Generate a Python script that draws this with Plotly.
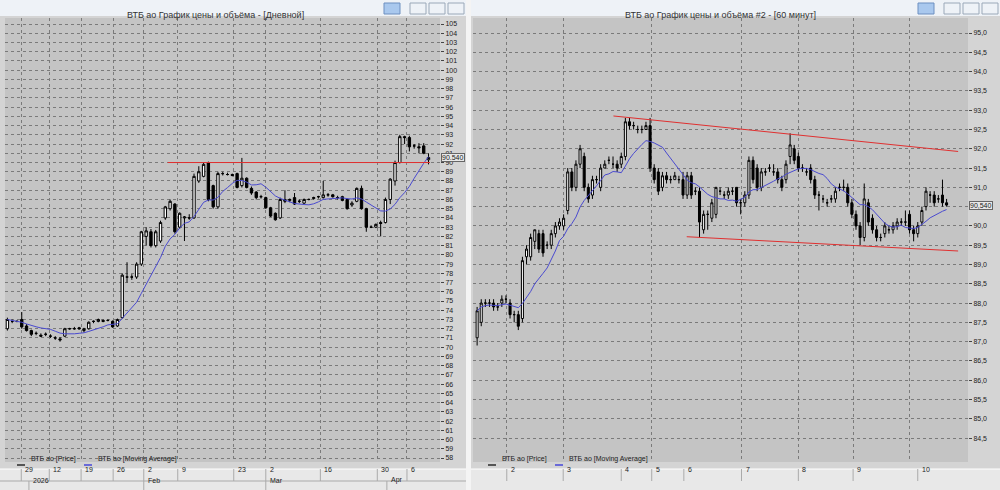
import plotly.graph_objects as go
import pandas as pd

# ---------------- data ----------------
left_ohlc = [
(72.0,73.2,71.8,73.0),(72.8,73.0,72.6,72.8),(72.8,72.9,72.7,72.8),(73.0,73.8,72.0,72.2),
(72.3,72.5,71.7,71.8),(71.8,71.9,71.2,71.4),(71.5,71.7,71.3,71.5),(71.3,71.5,71.1,71.2),
(71.4,71.6,71.2,71.4),(71.2,71.4,71.0,71.2),(71.0,71.2,70.8,71.0),(70.9,71.1,70.6,70.8),
(71.2,72.1,71.1,72.0),(72.0,72.1,71.9,72.0),(72.0,72.2,71.9,72.0),(72.1,72.2,71.9,72.0),
(71.8,72.1,71.6,72.0),(72.0,72.8,71.9,72.7),(72.8,72.9,72.6,72.8),(72.8,73.1,72.7,73.0),
(72.9,73.0,72.7,72.8),(72.9,73.0,72.8,72.9),(72.8,72.9,72.1,72.2),(72.3,73.1,72.2,73.0),
(73.2,78.0,73.1,77.8),(77.6,79.2,77.0,77.6),(77.6,77.9,77.3,77.6),(77.6,79.2,77.4,79.0),
(79.0,82.6,78.8,82.5),(82.0,83.0,81.0,82.6),(82.5,82.8,80.8,81.0),(81.0,82.7,80.8,82.5),
(81.5,83.7,81.3,83.5),(84.0,85.3,83.8,85.2),(85.0,86.0,84.8,85.8),(85.5,85.6,82.3,82.5),
(83.0,84.6,82.8,84.5),(84.0,84.2,81.5,84.1),(84.0,84.4,83.8,84.0),(84.0,88.8,83.9,88.5),
(88.0,89.6,87.8,89.0),(88.5,90.0,88.4,89.8),(90.0,90.1,85.8,86.0),(87.5,87.6,85.0,85.2),
(85.2,89.0,85.0,88.8),(88.8,89.0,88.6,88.8),(88.7,88.9,88.6,88.7),(88.7,88.8,88.5,88.6),
(88.8,88.9,87.2,87.3),(87.5,90.5,87.3,88.3),(88.3,88.4,87.2,87.3),(87.2,87.4,86.5,86.7),
(86.8,86.9,86.0,86.2),(86.3,86.5,86.1,86.3),(86.2,86.3,85.0,85.1),(85.1,85.2,84.1,84.2),
(84.5,84.6,83.7,83.8),(84.0,86.2,83.9,86.0),(86.0,87.0,85.6,85.8),(85.9,86.1,85.7,86.0),
(86.2,86.7,85.4,85.5),(85.8,86.0,85.6,85.8),(85.6,86.1,85.5,86.0),(86.0,86.1,85.9,86.0),
(86.1,86.3,86.0,86.2),(86.3,86.4,86.1,86.3),(86.2,88.0,86.1,86.5),(86.5,86.7,86.3,86.5),
(86.5,86.6,86.2,86.3),(86.2,86.4,86.0,86.2),(86.3,86.4,85.8,85.9),(86.0,86.1,84.9,85.0),
(85.4,85.8,85.2,85.6),(85.8,87.3,85.7,87.2),(87.2,87.5,84.9,85.0),(85.0,85.1,82.5,83.0),
(83.0,83.2,82.9,83.0),(83.0,83.4,82.9,83.3),(83.5,83.7,82.0,83.4),(83.5,86.2,83.4,86.0),
(86.0,88.3,85.5,88.2),(88.0,90.2,87.5,90.0),(90.0,93.0,89.9,92.8),(92.8,92.9,92.0,92.7),
(92.7,92.9,91.2,91.7),(91.8,92.0,91.5,91.8),(91.7,92.1,91.0,91.6),(91.8,92.1,90.9,91.0),
(90.3,91.0,89.8,90.54),
]
right_ohlc = [
(87.1,87.9,86.9,87.8),(87.5,88.1,87.4,88.0),(88.0,88.1,87.9,88.0),(88.0,88.1,87.9,88.0),
(88.0,88.1,87.8,87.9),(87.9,88.0,87.8,87.9),(88.0,88.2,87.9,88.1),(88.1,88.2,88.0,88.1),
(88.0,88.1,87.6,87.7),(87.7,87.8,87.5,87.7),(87.7,87.8,87.3,87.4),(87.6,89.2,87.5,89.1),
(89.2,89.5,89.0,89.4),(89.2,89.8,89.1,89.7),(89.6,89.9,89.4,89.9),(89.8,89.9,89.3,89.4),
(89.8,89.9,89.2,89.3),(89.5,89.6,89.4,89.5),(89.5,89.9,89.4,89.8),(89.8,90.1,89.7,90.0),
(90.0,90.2,89.9,90.1),(90.0,90.3,89.9,90.2),(90.4,91.5,90.3,91.4),(91.4,91.5,90.9,91.0),
(91.0,91.7,90.9,91.6),(91.6,92.1,91.5,92.0),(91.8,91.9,90.9,91.0),(91.0,91.1,90.6,90.7),
(90.8,91.3,90.7,91.2),(91.2,91.3,91.1,91.2),(91.0,91.6,90.9,91.5),(91.5,91.7,91.5,91.6),
(91.7,91.8,91.6,91.7),(91.6,91.8,91.5,91.6),(91.6,91.7,91.4,91.5),(91.6,91.9,91.5,91.8),
(91.8,92.8,91.7,92.7),(92.7,92.8,92.5,92.6),(92.6,92.7,92.5,92.6),(92.5,92.6,92.4,92.5),
(92.5,92.6,92.4,92.5),(92.5,92.7,92.5,92.6),(92.6,92.8,91.4,91.5),(91.5,91.6,91.1,91.2),
(91.4,91.5,90.8,90.9),(91.0,91.4,90.9,91.3),(91.3,91.4,91.1,91.2),(91.2,91.3,91.1,91.2),
(91.2,91.4,91.2,91.3),(91.2,91.3,91.1,91.2),(91.2,91.4,90.7,90.8),(90.8,91.4,90.7,91.3),
(91.3,91.4,90.7,90.8),(90.9,91.0,90.8,90.9),(90.9,91.0,89.7,90.1),(89.9,90.4,89.8,90.3),
(90.3,90.4,89.9,90.3),(90.2,90.7,90.1,90.6),(90.3,91.0,90.2,91.0),(90.9,91.0,90.8,90.9),
(90.8,90.9,90.7,90.8),(90.8,91.0,90.7,90.9),(90.9,91.0,90.8,90.9),(91.0,91.0,90.5,90.6),
(90.6,90.7,90.3,90.6),(90.6,90.9,90.5,90.8),(90.8,91.8,90.7,91.7),(91.7,91.8,91.1,91.2),
(91.5,91.6,90.9,91.0),(91.0,91.5,90.9,91.4),(91.4,91.5,91.3,91.4),(91.5,91.6,91.4,91.5),
(91.4,91.6,91.3,91.4),(91.4,91.5,91.1,91.2),(91.2,91.3,90.9,91.0),(91.2,91.7,91.1,91.6),
(91.8,92.4,91.6,92.1),(92.0,92.1,91.6,91.7),(91.8,91.9,91.4,91.5),(91.5,91.6,91.4,91.5),
(91.4,91.5,91.3,91.4),(91.5,91.6,91.1,91.2),(91.2,91.3,90.7,90.8),(90.8,90.9,90.4,90.8),
(90.7,90.8,90.6,90.7),(90.6,90.7,90.5,90.6),(90.7,90.8,90.6,90.7),(90.7,91.0,90.6,90.9),
(91.0,91.1,90.9,91.0),(91.0,91.2,90.9,91.0),(91.0,91.1,90.5,90.6),(90.6,90.7,90.2,90.3),
(90.3,90.4,89.9,90.0),(90.0,90.1,89.5,89.7),(89.7,91.1,89.6,90.7),(90.6,90.7,90.0,90.1),
(90.2,90.3,89.8,89.9),(89.9,90.0,89.6,89.7),(89.7,89.8,89.6,89.7),(89.8,90.1,89.7,90.0),
(89.9,90.0,89.8,89.9),(89.9,90.1,89.8,90.0),(90.0,90.2,89.9,90.1),(90.1,90.2,90.0,90.1),
(90.1,90.4,90.0,90.1),(90.3,90.4,89.8,89.9),(89.9,90.0,89.6,89.8),(89.8,90.1,89.7,90.0),
(90.1,90.5,90.0,90.4),(90.5,91.0,90.4,90.9),(90.8,90.9,90.6,90.8),(90.8,90.9,90.5,90.6),
(90.7,90.8,90.6,90.7),(90.8,91.2,90.5,90.6),(90.6,90.7,90.5,90.54),
]
ma_window_left = 10
ma_window_right = 10
last_price = 90.54

left_tick_idx = [2.9, 8.75, 15.4, 22.1, 28.5, 35.6, 47.3, 54, 65.4, 77.3, 83.5]
left_tick_lbl = ["29", "12", "19", "26", "2", "9", "23", "2", "16", "30", "6"]
left_month_idx = [4.5, 28.5, 54, 79.3]
left_month_lbl = ["2026", "Feb", "Mar", "Apr"]
right_grid_idx = [7.2, 20.9, 42.4, 64.2, 78.0, 91.3, 105.1]
right_tick_idx = [7.2, 20.9, 35, 42.4, 50.2, 64.2, 78.0, 91.3, 107]
right_tick_lbl = ["2", "3", "4", "5", "6", "7", "8", "9", "10"]

left_level = {"x": [33.5, 88.3], "y": [90.0, 90.0]}
right_upper = {"x": [33.1, 116.8], "y": [92.85, 91.93]}
right_lower = {"x": [50.9, 116.8], "y": [89.72, 89.35]}

# ---------------- figure ----------------
def frame(rows):
    df = pd.DataFrame(rows, columns=["o", "h", "l", "c"])
    df["i"] = range(len(df))
    return df

L = frame(left_ohlc); R = frame(right_ohlc)
L["ma"] = L["c"].rolling(ma_window_left, min_periods=1).mean()
R["ma"] = R["c"].rolling(ma_window_right, min_periods=1).mean()

W, H = 1000, 490
px = lambda x: x / W
py = lambda y: 1 - y / H

fig = go.Figure()
for df, xa, ya in [(L, "x", "y"), (R, "x2", "y2")]:
    fig.add_trace(go.Candlestick(x=df["i"], open=df["o"], high=df["h"], low=df["l"], close=df["c"],
        xaxis=xa, yaxis=ya, whiskerwidth=0,
        increasing=dict(line=dict(color="black", width=1), fillcolor="white"),
        decreasing=dict(line=dict(color="black", width=1), fillcolor="black"), showlegend=False))
    fig.add_trace(go.Scatter(x=df["i"], y=df["ma"], mode="lines", xaxis=xa, yaxis=ya,
        line=dict(color="#4a4ad0", width=1), showlegend=False))
for ln, xa, ya in [(left_level, "x", "y"), (right_upper, "x2", "y2"), (right_lower, "x2", "y2")]:
    fig.add_trace(go.Scatter(x=ln["x"], y=ln["y"], mode="lines", xaxis=xa, yaxis=ya,
        line=dict(color="#e03030", width=1), showlegend=False))

grid = dict(showgrid=True, gridcolor="#7a7a7a", griddash="dot", gridwidth=1, zeroline=False, automargin=False)
ly_vals = list(range(58, 106))
ry_vals = [84.5 + 0.5 * k for k in range(22)]
ry_text = ["" if abs(v - 90.5) < 1e-9 else f"{v:.1f}".replace(".", ",") for v in ry_vals]
fig.update_layout(
    width=W, height=H, margin=dict(l=0, r=0, t=0, b=0, autoexpand=False),
    paper_bgcolor="#d4d4d4", plot_bgcolor="#c4c4c4",
    font=dict(family="Liberation Sans Narrow, Liberation Sans, Arial", size=8, color="#222"),
    xaxis=dict(domain=[px(5), px(440)], range=[-0.5, 90.4], tickvals=left_tick_idx,
               showticklabels=False, rangeslider=dict(visible=False), anchor="y", **grid),
    yaxis=dict(domain=[py(462), py(18)], range=[57.57, 105.65], side="right", tickvals=ly_vals,
               ticktext=[str(v) for v in ly_vals], ticks="outside", ticklen=3, tickcolor="#444",
               tickfont=dict(size=7), anchor="x", **grid),
    xaxis2=dict(domain=[px(473), px(968)], range=[-1, 119.2], tickvals=right_grid_idx,
                showticklabels=False, rangeslider=dict(visible=False), anchor="y2", **grid),
    yaxis2=dict(domain=[py(462), py(18)], range=[83.88, 95.39], side="right", tickvals=ry_vals,
                ticktext=ry_text, ticks="outside", ticklen=3,
                tickcolor="#444", tickfont=dict(size=7), anchor="x2", **grid),
)

shapes = []
ann = []
shapes.append(dict(type="rect", xref="paper", yref="paper", x0=px(466), x1=px(471), y0=0, y1=1,
                   fillcolor="#f4f4f4", line=dict(width=0)))
for x0, x1, title, cx in [(0, 466, "ВТБ ао График цены и объёма - [Дневной]", 215),
                          (471, 1000, "ВТБ ао График цены и объёма #2 - [60 минут]", 720)]:
    shapes.append(dict(type="rect", xref="paper", yref="paper", x0=px(x0), x1=px(x1), y0=py(16), y1=1,
                       fillcolor="#eef2f7", line=dict(width=0)))
    ann.append(dict(x=px(cx), y=py(8), xref="paper", yref="paper", text=title, showarrow=False,
                    xanchor="center", font=dict(family="Liberation Sans, Arial", size=9, color="#333")))
    bx = x1 - 82
    shapes.append(dict(type="rect", xref="paper", yref="paper", x0=px(bx), x1=px(bx + 16), y0=py(14), y1=py(3),
                       fillcolor="#a9c8ee", line=dict(color="#6d8fc0", width=1)))
    for k in range(3):
        b = x1 - 56 + k * 19
        shapes.append(dict(type="rect", xref="paper", yref="paper", x0=px(b), x1=px(b + 16), y0=py(14), y1=py(3),
                           fillcolor="#eef2f7", line=dict(color="#9aa8b8", width=1)))
    shapes.append(dict(type="rect", xref="paper", yref="paper", x0=px(x0), x1=px(x1), y0=0, y1=py(469),
                       fillcolor="#e8e8e8", line=dict(width=0)))
    shapes.append(dict(type="line", xref="paper", yref="paper", x0=px(x0), x1=px(x1), y0=py(469), y1=py(469),
                       line=dict(color="#ffffff", width=1)))
    lx = x0 + 17
    for name, col, off in [("ВТБ ао [Price]", "#555", 0), ("ВТБ ао [Moving Average]", "#6a6ad8", 67)]:
        shapes.append(dict(type="line", xref="paper", yref="paper", x0=px(lx + off), x1=px(lx + off + 8),
                           y0=py(465), y1=py(465), line=dict(color=col, width=2)))
        ann.append(dict(x=px(lx + off + 12), y=py(465), xref="paper", yref="paper", text=name,
                        showarrow=False, xanchor="left", font=dict(size=7)))

shapes.append(dict(type="line", xref="paper", yref="paper", x0=0, x1=px(466), y0=py(481), y1=py(481),
                   line=dict(color="#aaaaaa", width=1)))
for xi, t in zip(left_tick_idx, left_tick_lbl):
    shapes.append(dict(type="line", xref="x", yref="paper", x0=xi, x1=xi, y0=py(481), y1=py(469),
                       line=dict(color="#aaaaaa", width=1)))
    ann.append(dict(x=xi, y=py(475), xref="x", yref="paper", text=t, showarrow=False, xanchor="left",
                    xshift=2, font=dict(size=7)))
for xi, t in zip(left_month_idx, left_month_lbl):
    shapes.append(dict(type="line", xref="x", yref="paper", x0=xi, x1=xi, y0=0, y1=py(481),
                       line=dict(color="#aaaaaa", width=1)))
    ann.append(dict(x=xi, y=py(486), xref="x", yref="paper", text=t, showarrow=False, xanchor="left",
                    xshift=2, font=dict(size=7)))
for xi, t in zip(right_tick_idx, right_tick_lbl):
    shapes.append(dict(type="line", xref="x2", yref="paper", x0=xi, x1=xi, y0=py(481), y1=py(469),
                       line=dict(color="#aaaaaa", width=1)))
    ann.append(dict(x=xi, y=py(475), xref="x2", yref="paper", text=t, showarrow=False, xanchor="left",
                    xshift=2, font=dict(size=7)))
for ya, txt, xpix in [("y", f"{last_price:.3f}", 441), ("y2", f"{last_price:.3f}".replace(".", ","), 969)]:
    ann.append(dict(x=px(xpix), y=last_price, xref="paper", yref=ya, text=txt, showarrow=False,
                    xanchor="left", bgcolor="#e8e8e8", bordercolor="#666", borderwidth=1, borderpad=0,
                    font=dict(size=7)))
fig.update_layout(shapes=shapes, annotations=ann)
fig.write_html("out.html", config={"displayModeBar": False},
               post_script="document.body.style.margin='0';document.body.style.overflow='hidden';")
